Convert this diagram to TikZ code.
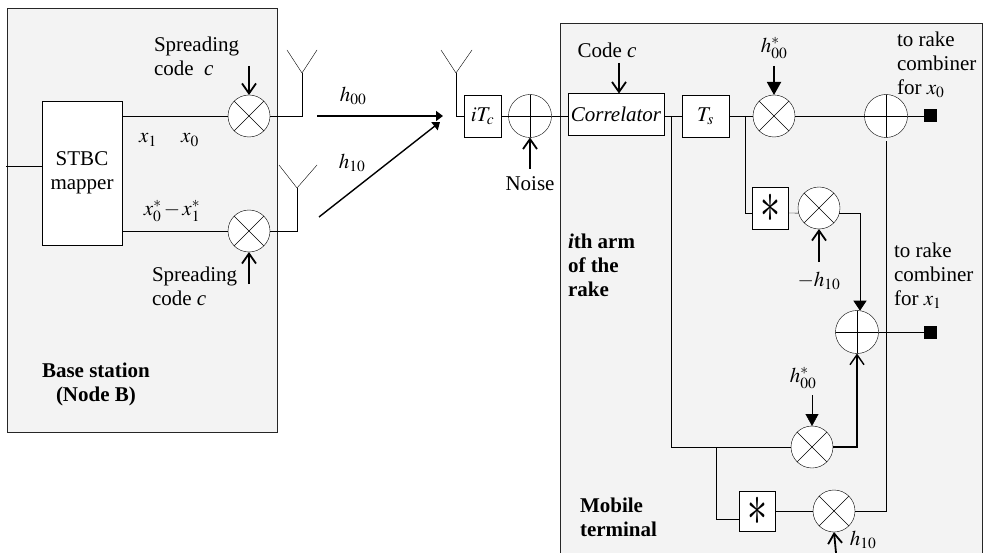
\documentclass[tikz,border=0pt]{standalone}
\usepackage{mathptmx}
\usepackage{fontspec}
\setmainfont{Liberation Serif}
\usetikzlibrary{arrows.meta}
\DeclareMathSizes{21}{21}{15.5}{12}
\definecolor{panelgray}{HTML}{F3F3F3}
\newcommand{\conjmark}{\scalebox{1.25}[1.9]{\fontsize{32}{32}\selectfont$\ast$}}
\tikzset{
	panel/.style={draw=black!85,fill=panelgray,line width=1pt},
	mixer/.style={circle,draw,fill=white,minimum size=42pt,inner sep=0pt,outer sep=0pt,path picture={
		\draw ([shift={(-20,-20)}]path picture bounding box.center) -- ([shift={(20,20)}]path picture bounding box.center);
		\draw ([shift={(-20,20)}]path picture bounding box.center) -- ([shift={(20,-20)}]path picture bounding box.center);}},
	adder/.style={circle,draw,fill=white,minimum size=43pt,inner sep=0pt,outer sep=0pt,path picture={
		\draw ([xshift=-25pt]path picture bounding box.center) -- ([xshift=25pt]path picture bounding box.center);
		\draw ([yshift=-25pt]path picture bounding box.center) -- ([yshift=25pt]path picture bounding box.center);}},
	blockbox/.style={draw,fill=white,inner sep=0pt,outer sep=0pt},
	endsquare/.style={fill=black,minimum size=13pt,inner sep=0pt,outer sep=0pt},
	label/.style={inner sep=0pt,outer sep=0pt,align=left},
	barbarrow/.style={-{Straight Barb[length=10pt,width=14pt]},line width=1.8pt},
	fillarrow/.style={-{Triangle[length=10pt,width=13pt]},line width=1pt},
	bigfill/.style={-{Triangle[length=13pt,width=14pt]},line width=1.8pt},
	chanarrow/.style={-{Triangle[length=7pt,width=10pt]},line width=1.4pt},
	font=\fontsize{21}{24}\selectfont,
	line width=1pt
}
\begin{document}
\begin{tikzpicture}[x=1pt,y=-1pt]
			\useasboundingbox (0,0) rectangle (984,553);
			\draw[panel] (7,9) rectangle (277,432);
			\draw[panel] (560,24) rectangle (982,570);
			% base station
			\node[blockbox,minimum width=80pt,minimum height=144pt,align=center] (mapper) at (82,173) {STBC\\mapper};
			\coordinate (datain) at (6,166);
			\draw (datain) -- (datain -| mapper.west);
			\node[mixer] (mixA) at (249,116) {};
			\node[mixer] (mixB) at (249,231) {};
			\coordinate (antA) at (302,73);
			\coordinate (antB) at (297,188);
			\coordinate (antC) at (456,73);
			\draw (mapper.east |- mixA) -- (mixA);
			\draw (mapper.east |- mixB) -- (mixB);
			\draw (mixA.east) -| (antA);
			\draw (mixB.east) -| (antB);
			\foreach \ant/\lft/\rgt in {antA/-15/15,antB/-18/20,antC/-15/16}{
				\draw (\ant) -- +(\lft,-23);
				\draw (\ant) -- +(\rgt,-23);
			}
			\coordinate (codeA) at (249,66);
			\coordinate (codeB) at (249,284);
			\draw[barbarrow] (codeA) -- (mixA.north);
			\draw[barbarrow] (codeB) -- (mixB.south);
			\node[label,anchor=west] (txtcodeA) at (154,56) {Spreading\\code\ \ \textit{c}};
			\node[label,anchor=west] (txtcodeB) at (152,286) {Spreading\\code \textit{c}};
			\node[label] (txtxA) at (148,140) {$x_1$};
			\node[label] (txtxB) at (190,140) {$x_0$};
			\node[label] (txtxC) at (172,211) {$x_0^*\,{-}\,x_1^*$};
			\node[label,anchor=west] (txtbase) at (42,384) {\bfseries Base station\\\bfseries\hspace{14pt}(Node B)};
			% channel
			\coordinate (chanA) at (317,116);
			\coordinate (chanB) at (319,217);
			\coordinate (rxA) at (443,116);
			\coordinate (rxB) at (440,122);
			\draw[chanarrow] (chanA) -- (rxA);
			\draw[chanarrow] (chanB) -- (rxB);
			\node[label] (txth0) at (353,96) {$h_{00}$};
			\node[label] (txth1) at (352,163) {$h_{10}$};
			% receiver front end
			\node[blockbox,minimum width=37pt,minimum height=42pt] (delay) at (482.5,116) {$iT_c$};
			\node[adder] (addN) at (530,116) {};
			\node[blockbox,minimum width=96pt,minimum height=42pt] (corr) at (616,114.5) {\textit{Correlator}};
			\node[blockbox,minimum width=47pt,minimum height=42pt] (sym) at (705.5,116) {$T_s$};
			\draw (antC) |- (delay.west);
			\draw (delay.east) -- (addN.west);
			\draw (addN.east) -- (corr.west |- addN);
			\draw (corr.east |- sym) -- (sym.west);
			\coordinate (noise) at (530,169);
			\draw[barbarrow] (noise) -- (addN.south);
			\node[label] (txtnoise) at (530,184) {Noise};
			\node[label] (txtcode) at (607,50) {Code \textit{c}};
			\coordinate (codeC) at (619,63);
			\draw[barbarrow] (codeC) -- (codeC |- corr.north);
			% rake arm
			\node[mixer] (mixC) at (774,116) {};
			\node[adder] (addA) at (886,116) {};
			\node[endsquare] (outA) at (930.5,116) {};
			\node[blockbox,minimum width=36pt,minimum height=42pt] (starA) at (770,208) {\conjmark};
			\node[mixer] (mixD) at (819,208) {};
			\node[adder] (addB) at (857,332) {};
			\node[endsquare] (outB) at (930.5,332) {};
			\node[mixer] (mixE) at (812,447) {};
			\node[blockbox,minimum width=36pt,minimum height=40pt] (starB) at (757,511) {\conjmark};
			\node[mixer] (mixF) at (834,511) {};
			\draw (sym.east) -- (mixC.west);
			\draw (mixC.east) -- (addA.west);
			\draw (addA.east) -- (outA.west);
			\coordinate (tapC) at (745,116);
			\draw (tapC) |- ([yshift=-5pt]starA.west);
			\draw ([yshift=-5pt]starA.east) -- (mixD.194);
			\draw[fillarrow] (mixD.-14) -| (addB.82);
			\draw (addB.east) -- (outB.west);
			\coordinate (tapA) at (671,116);
			\coordinate (tapE) at (716,447);
			\draw (tapA) |- (mixE.west);
			\draw[-{Straight Barb[length=10pt,width=14pt]},line width=1.4pt] (mixE.east) -| (addB.south);
			\draw (tapE) |- ([yshift=-8pt]starB.west);
			\draw (starB.east) -- (mixF.west);
			\coordinate (addfoot) at (886,141);
			\draw (mixF.east) -| (addfoot);
			\coordinate (hA) at (774,66);
			\coordinate (hB) at (819,262);
			\coordinate (hC) at (812,395);
			\coordinate (hD) at (836,553);
			\draw[bigfill] (hA) -- (mixC.north);
			\draw[barbarrow] (hB) -- (mixD.south);
			\draw[-{Triangle[length=12pt,width=13pt]}] (hC) -- (mixE.north);
			\draw[barbarrow] (hD) -- (mixF.south);
			\node[label] (txthA) at (774,48) {$h_{00}^*$};
			\node[label] (txthB) at (819,281) {$-h_{10}$};
			\node[label] (txthC) at (803,378) {$h_{00}^*$};
			\node[label] (txthD) at (863,540) {$h_{10}$};
			\node[label,anchor=north west] (txtcombA) at (897,32) {to rake\\combiner\\for $x_0$};
			\node[label,anchor=north west] (txtcombB) at (894,243) {to rake\\combiner\\for $x_1$};
			\node[label,anchor=north west] (txtarm) at (568,234) {\bfseries\textit{i}th arm\\\bfseries of the\\\bfseries rake};
			\node[label,anchor=north west] (txtmobile) at (580,498) {\bfseries Mobile\\\bfseries terminal};
\end{tikzpicture}
\end{document}
